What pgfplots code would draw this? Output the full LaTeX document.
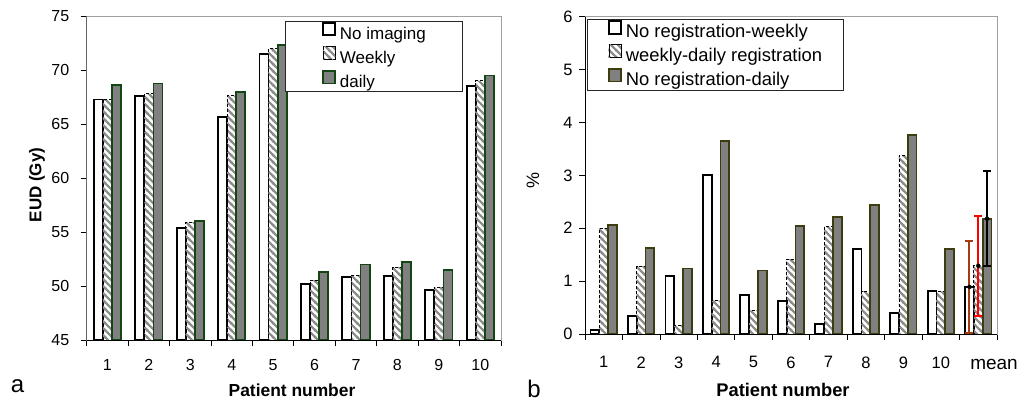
\documentclass[border=0pt]{standalone}
\usepackage{pgfplots}
\pgfplotsset{compat=1.18}
\usepackage{fontspec}
\setmainfont{Liberation Sans}
\usetikzlibrary{patterns}
\definecolor{gfill}{RGB}{128,128,128}
\definecolor{dgreen}{RGB}{20,70,20}
\definecolor{dolive}{RGB}{60,60,15}
\definecolor{hatch}{RGB}{140,140,140}
\definecolor{brownbar}{RGB}{165,60,15}
\definecolor{frame}{RGB}{160,160,160}

\pgfdeclarepatternformonly{wdiag}{\pgfqpoint{-1pt}{-1pt}}{\pgfqpoint{8pt}{8pt}}{\pgfqpoint{7pt}{7pt}}{%
  \pgfsetdash{}{0pt}%
  \pgfsetlinewidth{2pt}%
  \pgfpathmoveto{\pgfqpoint{-1pt}{8pt}}\pgfpathlineto{\pgfqpoint{8pt}{-1pt}}%
  \pgfpathmoveto{\pgfqpoint{-1pt}{1pt}}\pgfpathlineto{\pgfqpoint{1pt}{-1pt}}%
  \pgfpathmoveto{\pgfqpoint{6pt}{8pt}}\pgfpathlineto{\pgfqpoint{8pt}{6pt}}%
  \pgfusepath{stroke}}

\pgfplotsset{
  sqlegend/.style={legend image code/.code={\draw[##1] (0pt,-0.5pt) rectangle (12pt,12pt);}},
  barA/.style={ybar, fill=white, draw=black, line width=1.8pt, sqlegend},
  barB/.style={ybar, draw=none, pattern=wdiag, pattern color=hatch,
     postaction={draw=black, line width=0.9pt, dash pattern=on 3pt off 2pt}, sqlegend},
  barC/.style={ybar, fill=gfill, draw=#1, line width=1.8pt, sqlegend},
  common/.style={scale only axis, axis line style={frame, line width=0.8pt},
     tick style={black, line width=0.8pt}, tick align=outside,
     xtick pos=bottom, ytick pos=left, major tick length=6pt,
     /pgf/number format/assume math mode=true,
     xticklabels={}, extra x tick style={major tick length=0pt},
     clip=true},
  ebar/.style={forget plot, only marks, mark=none,
     error bars/.cd, y dir=both, y explicit,
     error bar style={draw=#1, line width=2pt, solid},
     error mark options={draw=#1, line width=2pt, mark size=4pt, rotate=90}},
}

\begin{document}
\begin{tikzpicture}
\useasboundingbox (0,0) rectangle (1024pt,400pt);

% ---------------- panel a ----------------
\begin{axis}[common, at={(86.7pt,60pt)}, anchor=south west,
  width=414.3pt, height=324pt,
  xmin=-0.5, xmax=9.5, ymin=45, ymax=75,
  ytick={45,50,...,75},
  xtick={-0.5,0.5,...,9.5},
  extra x ticks={0,...,9}, extra x tick labels={1,2,3,4,5,6,7,8,9,10},
  xticklabel style={font=\fontsize{16}{19}\selectfont, yshift=-16pt},
  yticklabel style={font=\fontsize{16}{19}\selectfont, xshift=-8pt},
  legend style={at={(0.909,0.9836)}, anchor=north east, draw=black!85, line width=0.8pt,
     font=\fontsize{17}{20}\selectfont, inner xsep=37pt, inner ysep=0pt,
     row sep=3pt, column sep=4pt,
     nodes={inner sep=0pt, text height=13pt, text depth=4pt}},
  legend cell align=left,
]
\addplot[barA, bar width=0.22, bar shift=-0.22] coordinates {
 (0,67.27) (1,67.57) (2,55.38) (3,65.65) (4,71.5) (5,50.18) (6,50.86) (7,50.95) (8,49.63) (9,68.5)};
\addplot[barB, bar width=0.22, bar shift=0] coordinates {
 (0,67.3) (1,67.8) (2,55.9) (3,67.6) (4,72.0) (5,50.55) (6,51.0) (7,51.7) (8,49.9) (9,69.0)};
\addplot[barC=dgreen, bar width=0.22, bar shift=0.22] coordinates {
 (0,68.6) (1,68.75) (2,56.0) (3,68.0) (4,72.3) (5,51.26) (6,52.0) (7,52.2) (8,51.5) (9,69.5)};
\legend{No imaging, Weekly, daily}
\draw[black, line width=0.8pt] (rel axis cs:0,1) -- (rel axis cs:0,0) -- (rel axis cs:1,0);
\end{axis}

% ---------------- panel b ----------------
\begin{axis}[common, at={(585pt,66pt)}, anchor=south west,
  width=412pt, height=317.3pt,
  xmin=-0.5, xmax=10.5, ymin=0, ymax=6,
  ytick={0,1,...,6},
  xtick={-0.5,0.5,...,10.5},
  extra x ticks={0,...,9}, extra x tick labels={1,2,3,4,5,6,7,8,9,10},
  xticklabel style={font=\fontsize{16.5}{19}\selectfont, yshift=-19pt},
  yticklabel style={font=\fontsize{16.5}{19}\selectfont, xshift=-3pt},
  legend style={at={(0.004,0.9918)}, anchor=north west, draw=black!85, line width=0.8pt,
     font=\fontsize{18.4}{21}\selectfont, inner xsep=21pt, inner ysep=0.5pt,
     row sep=2.5pt, column sep=4pt,
     nodes={inner sep=0pt, text height=13.5pt, text depth=4pt}},
  legend cell align=left,
]
\addplot[barA, bar width=0.235, bar shift=-0.235] coordinates {
 (0,0.08) (1,0.34) (2,1.09) (3,3.0) (4,0.74) (5,0.63) (6,0.19) (7,1.61) (8,0.40) (9,0.81) (10,0.89)};
\addplot[barB, bar width=0.235, bar shift=0] coordinates {
 (0,2.0) (1,1.28) (2,0.17) (3,0.63) (4,0.44) (5,1.41) (6,2.03) (7,0.81) (8,3.38) (9,0.80) (10,1.29)};
\addplot[barC=dolive, bar width=0.235, bar shift=0.235] coordinates {
 (0,2.06) (1,1.63) (2,1.24) (3,3.65) (4,1.2) (5,2.04) (6,2.21) (7,2.44) (8,3.76) (9,1.61) (10,2.18)};
\legend{No registration-weekly, weekly-daily registration, No registration-daily}
\addplot[ebar=brownbar] coordinates {(9.765,0.89) +- (0,0.87)};
\addplot[ebar=red] coordinates {(10,1.29) +- (0,0.95)};
\addplot[ebar=black] coordinates {(10.235,2.18) +- (0,0.9)};
\draw[black, line width=0.8pt] (rel axis cs:0,1) -- (rel axis cs:0,0) -- (rel axis cs:1,0);
\end{axis}

% ---------------- labels ----------------
\node[font=\fontsize{19}{22}\selectfont] at (994pt,36pt) {mean};
\node[rotate=90, font=\bfseries\fontsize{17}{20}\selectfont] at (37pt,215pt) {EUD (Gy)};
\node[font=\bfseries\fontsize{17.4}{20}\selectfont] at (292pt,10pt) {Patient number};
\node[font=\bfseries\fontsize{18.3}{21}\selectfont] at (783pt,10pt) {Patient number};
\node[rotate=90, font=\fontsize{18}{21}\selectfont] at (533pt,220pt) {\%};
\node[anchor=base, font=\fontsize{24}{28}\selectfont, inner sep=0pt] at (17.5pt,8pt) {a};
\node[anchor=base, font=\fontsize{24}{28}\selectfont, inner sep=0pt] at (534pt,3pt) {b};
\end{tikzpicture}
\end{document}
